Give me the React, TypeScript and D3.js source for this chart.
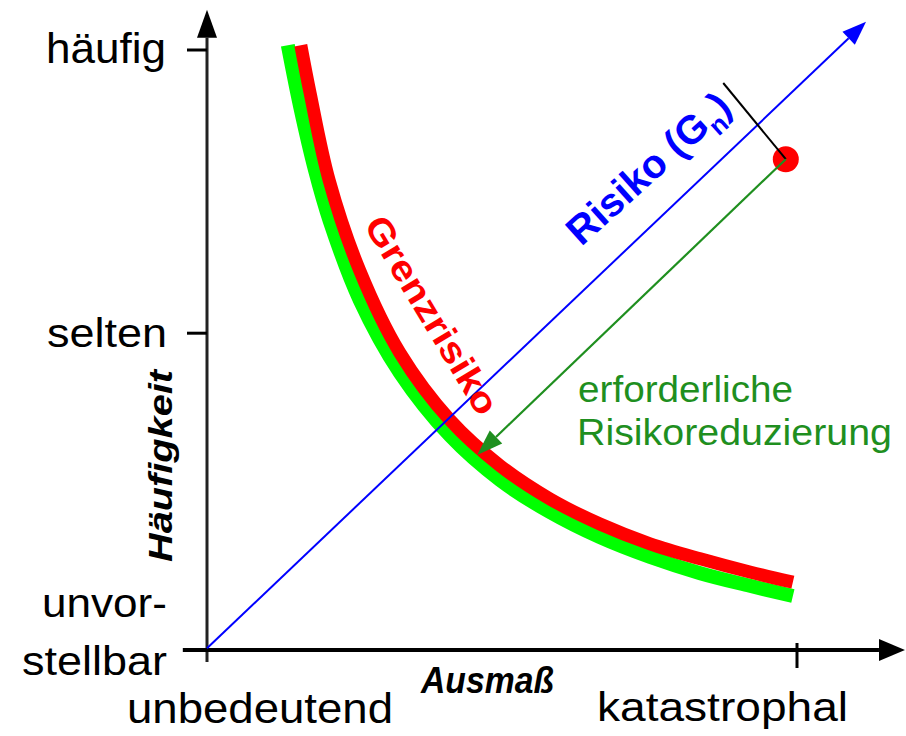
import React from 'react';
import * as d3 from 'd3';

const W = 906;
const H = 736;

// axis categories
const xTickLabels = ['unbedeutend', 'katastrophal'];
const xTickValues = [0, 100];
const yTickLabels = ['häufig', 'selten', 'unvor-', 'stellbar'];
const yTickValues = [100, 52.8, 0];

// Grenzrisiko (red) curve
const grenzX = [15.9, 17.5, 20.7, 25.9, 32.7, 41.2, 49.7, 58.1, 66.6, 75.1, 83.6, 92.0, 99.3];
const grenzY = [100.8, 92.7, 78.3, 63.2, 49.5, 38.3, 30.7, 25.2, 21.0, 17.7, 15.2, 13.0, 11.3];

// green curve (acceptable)
const gruenX = [13.7, 15.8, 18.3, 20.8, 25.9, 32.7, 41.2, 49.7, 58.1, 66.6, 75.1, 83.6, 92.0, 99.3];
const gruenY = [100.8, 90.5, 80.0, 71.5, 58.3, 46.2, 35.7, 28.3, 23.0, 18.8, 15.5, 12.8, 10.7, 9.0];

// Risiko line
const riskLineX = [0, 111.7];
const riskLineY = [0.3, 104.7];
const riskPoint = [98.1, 81.8];
const reductionTarget = [45.8, 32.5];
const gnMarkerStart = [87.5, 94.5];

// axis extents
const xAxisExtent = [-4.1, 118.3];
const yAxisExtent = [-2, 106.7];

const FONT = '"Liberation Sans", Arial, Helvetica, sans-serif';

function arrowHead(tx: number, ty: number, fx: number, fy: number, len: number, hw: number) {
  const dx = tx - fx, dy = ty - fy;
  const d = Math.hypot(dx, dy);
  const ux = dx / d, uy = dy / d;
  const bx = tx - ux * len, by = ty - uy * len;
  const px = -uy, py = ux;
  return {
    points: `${tx},${ty} ${bx + px * hw},${by + py * hw} ${bx - px * hw},${by - py * hw}`,
    bx, by,
  };
}

export default function App() {
  const x = d3.scaleLinear().domain([0, 100]).range([207, 797]);
  const y = d3.scaleLinear().domain([0, 100]).range([650, 50]);

  const line = d3.line<[number, number]>()
    .x(d => x(d[0]))
    .y(d => y(d[1]))
    .curve(d3.curveCatmullRom.alpha(0.5));

  const grenz = grenzX.map((v, i) => [v, grenzY[i]] as [number, number]);
  const gruen = gruenX.map((v, i) => [v, gruenY[i]] as [number, number]);

  // axes
  const yAxisX = x(0);
  const xAxisY = y(0);
  const yArrow = arrowHead(yAxisX, y(yAxisExtent[1]), yAxisX, y(0), 28, 10);
  const xArrow = arrowHead(x(xAxisExtent[1]), xAxisY, x(0), xAxisY, 26, 11);

  const bx0 = x(riskLineX[0]), by0 = y(riskLineY[0]);
  const bx1 = x(riskLineX[1]), by1 = y(riskLineY[1]);
  const blueArrow = arrowHead(bx1, by1, bx0, by0, 24, 9);

  const rpx = x(riskPoint[0]), rpy = y(riskPoint[1]);
  const gtx = x(reductionTarget[0]), gty = y(reductionTarget[1]);
  const greenArrow = arrowHead(gtx, gty, rpx, rpy, 26, 9);

  const green = '#1f8f1f';

  return (
    <svg width={W} height={H} style={{ position: 'absolute', left: 0, top: 0, display: 'block', background: '#fff' }}
      fontFamily={FONT}>
      <rect x={0} y={0} width={W} height={H} fill="#fff" />

      {/* curves */}
      <path d={line(gruen) || ''} fill="none" stroke="#00ff00" strokeWidth={14} />
      <path d={line(grenz) || ''} fill="none" stroke="#ff0000" strokeWidth={13} />

      {/* y axis */}
      <line x1={yAxisX} y1={y(yAxisExtent[0])} x2={yAxisX} y2={yArrow.by} stroke="#222" strokeWidth={3} />
      <polygon points={yArrow.points} fill="#000" />
      {yTickValues.slice(0, 2).map((v, i) => (
        <line key={i} x1={yAxisX - 20} x2={yAxisX} y1={y(v)} y2={y(v)} stroke="#000" strokeWidth={3} />
      ))}

      {/* x axis */}
      <line x1={x(xAxisExtent[0])} y1={xAxisY} x2={xArrow.bx} y2={xAxisY} stroke="#000" strokeWidth={4} />
      <polygon points={xArrow.points} fill="#000" />
      <line x1={x(xTickValues[1])} x2={x(xTickValues[1])} y1={xAxisY - 7} y2={xAxisY + 18} stroke="#000" strokeWidth={3} />

      {/* y tick labels */}
      <text x={166} y={63} fontSize={42} textAnchor="end" textLength={120} lengthAdjust="spacingAndGlyphs" fill="#000">{yTickLabels[0]}</text>
      <text x={167} y={347} fontSize={40} textAnchor="end" textLength={120} lengthAdjust="spacingAndGlyphs" fill="#000">{yTickLabels[1]}</text>
      <text x={167} y={617} fontSize={40} textAnchor="end" textLength={125} lengthAdjust="spacingAndGlyphs" fill="#000">{yTickLabels[2]}</text>
      <text x={167} y={675} fontSize={40} textAnchor="end" textLength={145} lengthAdjust="spacingAndGlyphs" fill="#000">{yTickLabels[3]}</text>

      {/* x tick labels */}
      <text x={127} y={723} fontSize={42} textLength={266} lengthAdjust="spacingAndGlyphs" fill="#000">{xTickLabels[0]}</text>
      <text x={597} y={721} fontSize={40} textLength={251} lengthAdjust="spacingAndGlyphs" fill="#000">{xTickLabels[1]}</text>

      {/* axis titles */}
      <text x={421} y={693} fontSize={36} fontWeight="bold" fontStyle="italic" textLength={133} lengthAdjust="spacingAndGlyphs" fill="#000">Ausmaß</text>
      <text transform={`translate(172,466) rotate(-90)`} fontSize={34} fontWeight="bold" fontStyle="italic" textAnchor="middle" textLength={192} lengthAdjust="spacingAndGlyphs" fill="#000">Häufigkeit</text>

      {/* risk line */}
      <line x1={bx0} y1={by0} x2={blueArrow.bx} y2={blueArrow.by} stroke="#0000ff" strokeWidth={2} />
      <polygon points={blueArrow.points} fill="#0000ff" />

      {/* risk point */}
      <circle cx={rpx} cy={rpy} r={13} fill="#ff0000" />
      <line x1={x(gnMarkerStart[0])} y1={y(gnMarkerStart[1])} x2={rpx} y2={rpy} stroke="#000" strokeWidth={2} />

      {/* reduction arrow */}
      <line x1={rpx} y1={rpy} x2={greenArrow.bx} y2={greenArrow.by} stroke={green} strokeWidth={2.2} />
      <polygon points={greenArrow.points} fill={green} />

      {/* labels */}
      <text transform={`translate(432,315) rotate(59)`} dy="0.35em" fontSize={36} fontWeight="bold" textAnchor="middle" textLength={225} lengthAdjust="spacingAndGlyphs" fill="#ff0000">Grenzrisiko</text>
      <text transform={`translate(648,168) rotate(-42)`} dy="0.35em" fontSize={40} fontWeight="bold" textAnchor="middle" fill="#0000ff">
        Risiko (G<tspan fontSize={26} dy="10">n</tspan><tspan dy="-10">)</tspan>
      </text>

      <text x={578} y={402} fontSize={36} textLength={215} lengthAdjust="spacingAndGlyphs" fill={green}>erforderliche</text>
      <text x={577} y={445} fontSize={36} textLength={315} lengthAdjust="spacingAndGlyphs" fill={green}>Risikoreduzierung</text>
    </svg>
  );
}
